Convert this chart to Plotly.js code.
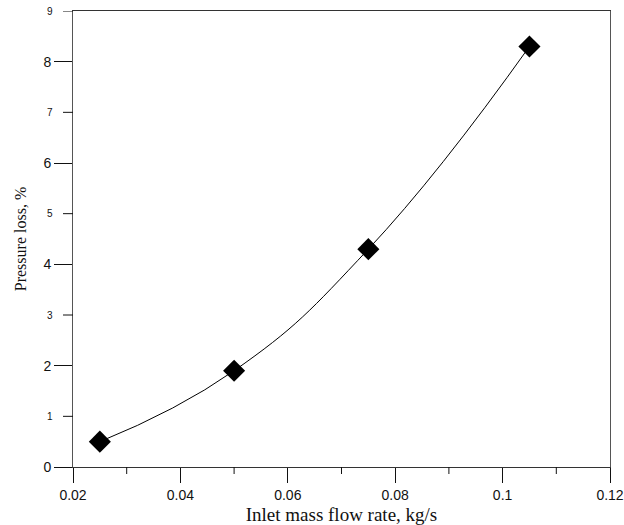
<!DOCTYPE html>
<html><head><meta charset="utf-8">
<script src="https://cdn.plot.ly/plotly-3.0.1.min.js"></script>
<style>body{margin:0;background:#fff}#c{width:624px;height:525px}</style>
</head><body><div id="c"></div>
<script>
const flowRate = [0.025, 0.05, 0.075, 0.105];
const pressureLoss = [0.5, 1.9, 4.3, 8.3];
const yMajorTicks = [0, 2, 4, 6, 8];
const yMinorTicks = [1, 3, 5, 7, 9];
const xTicks = [0.02, 0.04, 0.06, 0.08, 0.1, 0.12];
const xTickText = ['0.02', '0.04', '0.06', '0.08', '0.1', '0.12'];
const xMinorTicks = [0.03, 0.05, 0.07, 0.09, 0.11];

const traces = [
  {x: flowRate, y: pressureLoss, mode: 'lines', line: {color: '#000', width: 1, shape: 'spline', smoothing: 1.3}, hoverinfo: 'skip'},
  {x: flowRate, y: pressureLoss, mode: 'markers', marker: {symbol: 'diamond', size: 17, color: '#000'}}
];

const plotW = 624 - 73 - 14, plotH = 525 - 11 - 58;
const shapes = [];
xMinorTicks.forEach(v => shapes.push({type: 'line', xref: 'x', yref: 'y domain', x0: v, x1: v, y0: 0, y1: -7 / plotH, line: {color: '#111', width: 1}}));
yMinorTicks.forEach(v => shapes.push({type: 'line', xref: 'x domain', yref: 'y', x0: 0, x1: -10 / plotW, y0: v, y1: v, line: {color: '#111', width: 1}}));

const oddLabels = yMinorTicks.map(v => ({
  xref: 'paper', yref: 'y', x: 0, y: v, text: String(v), showarrow: false,
  xanchor: 'right', yanchor: 'middle', xshift: -18,
  font: {family: 'Liberation Sans', size: 10, color: '#111'}
}));

const layout = {
  width: 624, height: 525,
  margin: {l: 73, r: 14, t: 11, b: 58},
  paper_bgcolor: '#fff', plot_bgcolor: '#fff',
  showlegend: false,
  xaxis: {
    range: [0.02, 0.12], tickvals: xTicks, ticktext: xTickText,
    ticks: 'outside', ticklen: 15, tickcolor: '#111', tickwidth: 1,
    showgrid: false, zeroline: false,
    showline: true, linecolor: '#333', linewidth: 1, mirror: true,
    tickfont: {family: 'Liberation Sans', size: 14, color: '#111'},
    title: {text: 'Inlet mass flow rate, kg/s', font: {family: 'Liberation Serif', size: 19, color: '#111'}}
  },
  yaxis: {
    range: [0, 9], tickvals: yMajorTicks,
    ticks: 'outside', ticklen: 18, tickcolor: '#111', tickwidth: 1,
    showgrid: false, zeroline: false,
    showline: true, linecolor: '#555', linewidth: 1, mirror: true,
    tickfont: {family: 'Liberation Sans', size: 14, color: '#111'},
    title: {text: 'Pressure loss, %', font: {family: 'Liberation Serif', size: 16, color: '#111'}, standoff: 12}
  },
  shapes: shapes,
  annotations: oddLabels
};
Plotly.newPlot('c', traces, layout, {displayModeBar: false, staticPlot: true});
</script>
</body></html>
